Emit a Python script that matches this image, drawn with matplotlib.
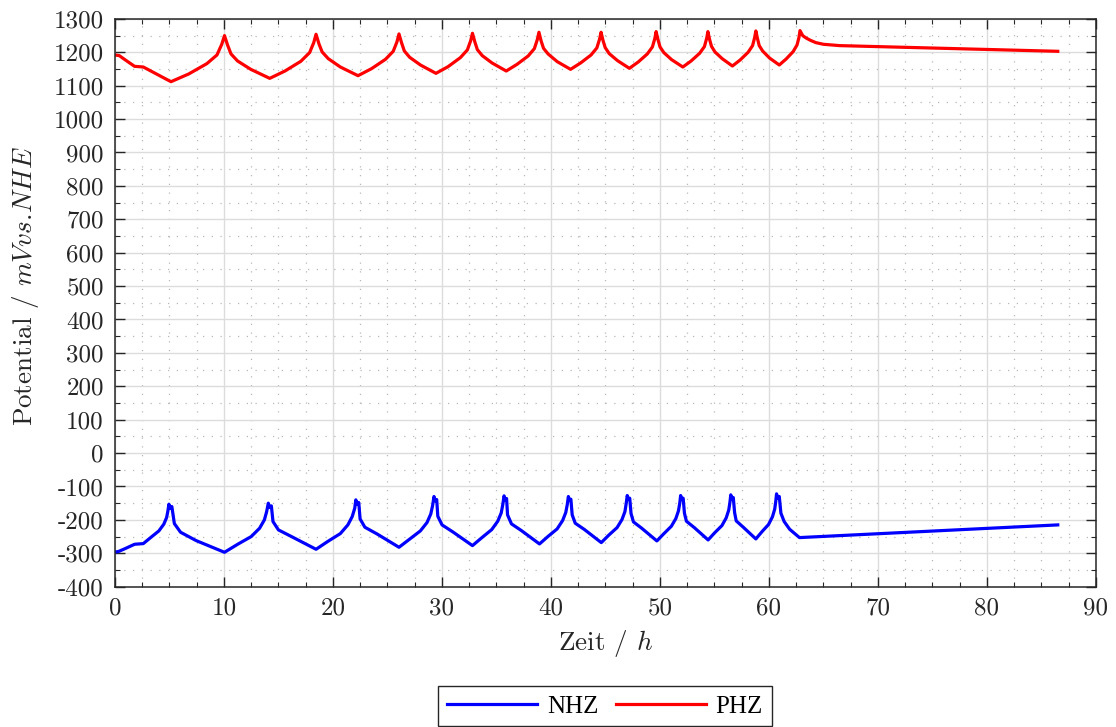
import matplotlib
matplotlib.use("Agg")
import matplotlib.pyplot as plt
from matplotlib.ticker import MultipleLocator

# === Potential curves (time in h, potential in mV vs. NHE) ===
# PHZ: positive half cell
phz_t = [0, 0.4, 1.0, 1.8, 2.6,
         5.14, 6.76, 8.43, 9.36, 9.80, 10.05, 10.34, 10.65, 11.25, 12.46,
         14.2, 15.6, 17.05, 17.86, 18.24, 18.45, 18.72, 19.01, 19.57, 20.68,
         22.3, 23.54, 24.82, 25.53, 25.87, 26.06, 26.30, 26.55, 27.04, 28.03,
         29.45, 30.56, 31.69, 32.33, 32.63, 32.8, 33.02, 33.25, 33.70, 34.60,
         35.9, 36.89, 37.91, 38.48, 38.75, 38.9, 39.10, 39.32, 39.74, 40.58,
         41.8, 42.72, 43.68, 44.21, 44.46, 44.6, 44.78, 44.98, 45.35, 46.11,
         47.2, 48.01, 48.84, 49.31, 49.53, 49.65, 49.82, 50.01, 50.36, 51.07,
         52.1, 52.86, 53.64, 54.08, 54.29, 54.4, 54.56, 54.73, 55.05, 55.71,
         56.65, 57.36, 58.09, 58.50, 58.69, 58.8, 58.95, 59.11, 59.42, 60.05,
         60.95, 61.58, 62.22, 62.58, 62.76, 62.85,
         63.1, 63.4, 63.8, 64.3, 65.0, 66.5, 86.5]
phz_mv = [1192, 1190, 1176, 1158, 1156,
          1112, 1135, 1166, 1192, 1224, 1250, 1221, 1195, 1174, 1149,
          1122, 1144, 1173, 1199, 1229, 1254, 1225, 1201, 1181, 1156,
          1130, 1151, 1179, 1203, 1231, 1255, 1228, 1204, 1185, 1162,
          1137, 1157, 1184, 1207, 1234, 1257, 1231, 1208, 1190, 1168,
          1144, 1164, 1189, 1211, 1238, 1260, 1234, 1212, 1195, 1172,
          1149, 1168, 1192, 1213, 1239, 1260, 1235, 1214, 1196, 1175,
          1152, 1171, 1195, 1216, 1241, 1262, 1238, 1216, 1199, 1178,
          1156, 1174, 1197, 1217, 1242, 1262, 1238, 1218, 1201, 1181,
          1159, 1177, 1200, 1220, 1244, 1264, 1241, 1220, 1204, 1183,
          1162, 1180, 1202, 1222, 1245, 1265,
          1250, 1243, 1236, 1229, 1224, 1220, 1203]

# NHZ: negative half cell
nhz_t = [0, 0.3, 1.0, 1.8, 2.6, 3.31, 4.03, 4.48, 4.74, 4.86,
         4.95, 5.07, 5.22, 5.45, 6.02, 7.45,
         10.05, 11.26, 12.50, 13.27, 13.71, 13.92,
         14.07, 14.19, 14.35, 14.5, 15.0, 16.2,
         18.45, 19.55, 20.68, 21.37, 21.77, 22.00,
         22.1, 22.22, 22.37, 22.49, 22.93, 24.04,
         26.06, 27.02, 28.02, 28.63, 28.98, 29.15,
         29.27, 29.39, 29.52, 29.62, 30.01, 31.0,
         32.8, 33.67, 34.57, 35.12, 35.44, 35.59,
         35.7, 35.81, 35.93, 36.02, 36.38, 37.29,
         38.95, 39.75, 40.57, 41.07, 41.36, 41.50,
         41.6, 41.71, 41.83, 41.95, 42.23, 43.08,
         44.62, 45.33, 46.07, 46.52, 46.79, 46.91,
         47.0, 47.11, 47.23, 47.35, 47.57, 48.33,
         49.72, 50.37, 51.05, 51.46, 51.70, 51.82,
         51.9, 52.01, 52.13, 52.25, 52.43, 53.15,
         54.42, 55.04, 55.69, 56.08, 56.31, 56.42,
         56.5, 56.61, 56.73, 56.85, 57.0, 57.65,
         58.8, 59.37, 59.96, 60.32, 60.53, 60.63,
         60.7, 60.81, 60.95, 61.1, 61.4, 61.9,
         62.8, 86.5]
nhz_mv = [-296, -295, -285, -273, -271, -252, -233, -213, -193, -173,
          -153, -165, -160, -211, -237, -262,
          -297, -273, -250, -225, -200, -175,
          -150, -163, -158, -205, -230, -250,
          -288, -264, -241, -215, -190, -165,
          -140, -153, -148, -197, -222, -242,
          -282, -258, -233, -208, -182, -156,
          -130, -143, -139, -189, -215, -236,
          -277, -253, -229, -204, -179, -153,
          -128, -140, -136, -185, -212, -232,
          -272, -249, -227, -202, -178, -154,
          -130, -142, -138, -185, -210, -229,
          -268, -245, -223, -199, -175, -150,
          -127, -139, -135, -181, -206, -225,
          -263, -241, -219, -196, -173, -150,
          -127, -139, -135, -180, -204, -223,
          -260, -238, -217, -194, -171, -148,
          -125, -137, -133, -178, -203, -222,
          -257, -235, -214, -191, -168, -144,
          -122, -135, -130, -180, -205, -228,
          -253, -215]

x_ticks = list(range(0, 91, 10))
y_ticks = list(range(-400, 1301, 100))

# === Style ===
plt.rcParams['font.family'] = 'cmr10'
plt.rcParams['mathtext.fontset'] = 'cm'
plt.rcParams['font.size'] = 18

fig = plt.figure(figsize=(11.16, 7.27), dpi=100)
ax = fig.add_axes([0.103, 0.193, 0.879, 0.781])

ax.plot(nhz_t, nhz_mv, color=(0, 0, 1), lw=2.3, label='NHZ')
ax.plot(phz_t, phz_mv, color=(1, 0, 0), lw=2.3, label='PHZ')

ax.set_xlim(0, 90)
ax.set_ylim(-400, 1300)
ax.set_xticks(x_ticks, [str(v) for v in x_ticks])
ax.set_yticks(y_ticks, [str(v) for v in y_ticks])
ax.xaxis.set_minor_locator(MultipleLocator(2.5))
ax.yaxis.set_minor_locator(MultipleLocator(50))

ax.tick_params(which='both', direction='in', top=True, right=True,
               colors='#262626', labelcolor='#262626')
ax.tick_params(which='major', length=7, width=1.0, pad=8)
ax.tick_params(which='minor', length=3.5, width=0.8)

ax.set_axisbelow(True)
ax.grid(which='major', color='#dcdcdc', lw=1.0, ls='-')
ax.grid(which='minor', color='#b8b8b8', lw=0.9, ls=(0, (1, 6)))
for sp in ax.spines.values():
    sp.set_color('#262626')
    sp.set_linewidth(1.1)

ax.set_xlabel(r'Zeit / $h$', color='#262626', fontsize=19.5, labelpad=6)
ax.set_ylabel(r'Potential / $mV vs$.$NHE$', color='#262626', fontsize=19.5,
              labelpad=8)
ax.yaxis.set_label_coords(-0.075, 0.53)

leg = ax.legend(loc='center', bbox_to_anchor=(0.542, 0.0285),
                bbox_transform=fig.transFigure, ncol=2, frameon=True,
                fancybox=False, edgecolor='#262626', framealpha=1,
                handlelength=3.6, handletextpad=0.4, columnspacing=0.7,
                borderpad=0.35, prop={'family': 'Liberation Serif', 'size': 18})
leg.get_frame().set_linewidth(1.0)

fig.savefig('out.png', dpi=100)
